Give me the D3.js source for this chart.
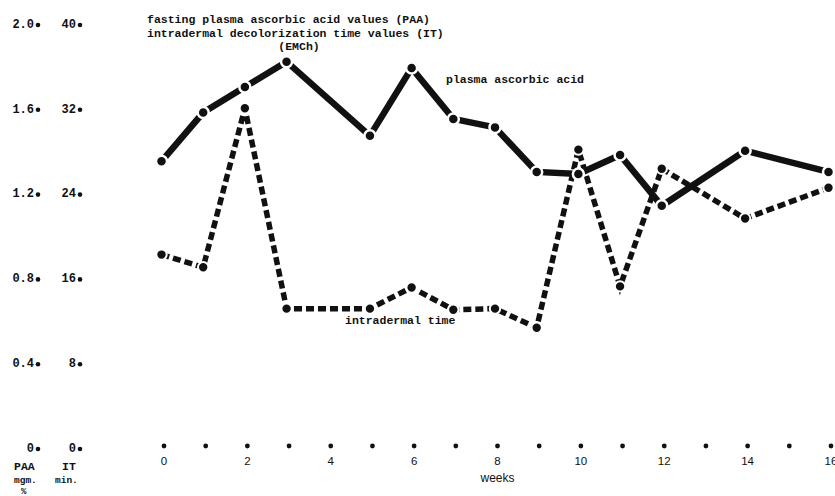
<!DOCTYPE html>
<html>
<head>
<meta charset="utf-8">
<script src="https://cdn.jsdelivr.net/npm/d3@7"></script>
<style>
  html, body { margin: 0; padding: 0; background: #fff; }
  svg { display: block; }
  .mono { font-family: "Liberation Mono", "DejaVu Sans Mono", monospace; font-weight: bold; fill: #111; }
  .sans { font-family: "Liberation Sans", Arial, sans-serif; fill: #111; }
</style>
</head>
<body>
<svg id="chart" width="835" height="496"></svg>
<script>
// Weekly measurements
const paaWeeks = [0, 1, 2, 3, 5, 6, 7, 8, 9, 10, 11, 12, 14, 16];
const paaValues = [1.35, 1.58, 1.70, 1.82, 1.47, 1.79, 1.55, 1.51, 1.30, 1.29, 1.38, 1.14, 1.40, 1.30]; // mgm. %
const itWeeks = [0, 1, 2, 3, 5, 6, 7, 8, 9, 10, 11, 12, 14, 16];
const itValues = [18.2, 17.0, 32.0, 13.1, 13.1, 15.1, 13.0, 13.1, 11.3, 28.1, 15.2, 26.3, 21.6, 24.5]; // min.

// Axis ticks and labels
const weekTicks = [0, 1, 2, 3, 4, 5, 6, 7, 8, 9, 10, 11, 12, 13, 14, 15, 16];
const weekLabels = ["0", "2", "4", "6", "8", "10", "12", "14", "16"];
const paaTicks = [0, 0.4, 0.8, 1.2, 1.6, 2.0];
const paaTickLabels = ["0", "0.4", "0.8", "1.2", "1.6", "2.0"];
const itTicks = [0, 8, 16, 24, 32, 40];
const itTickLabels = ["0", "8", "16", "24", "32", "40"];

const svg = d3.select("#chart");

const x = d3.scaleLinear().domain([0, 16]).range([164, 831]);
const yPAA = d3.scaleLinear().domain([0, 2.0]).range([447.5, 23.5]);
const yIT = d3.scaleLinear().domain([0, 40]).range([447.5, 23.5]);

// Title block
const title = svg.append("g").attr("class", "mono").style("font-size", "11.5px");
title.append("text").attr("x", 147).attr("y", 23).text("fasting plasma ascorbic acid values (PAA)");
title.append("text").attr("x", 147).attr("y", 36.5).text("intradermal decolorization time values (IT)");
title.append("text").attr("x", 299).attr("y", 49.5).attr("text-anchor", "middle").text("(EMCh)");

// Left scales: PAA (mgm. %) and IT (min.)
const leftAxes = svg.append("g");
const paaAxis = leftAxes.selectAll("g.paa").data(paaTicks).join("g").attr("class", "paa")
  .attr("transform", d => `translate(0,${yPAA(d)})`);
paaAxis.append("text").attr("class", "mono").style("font-size", "12px")
  .attr("x", 34).attr("dy", "0.35em").attr("text-anchor", "end")
  .text((d, i) => paaTickLabels[i]);
paaAxis.append("circle").attr("cx", 38).attr("cy", 1.5).attr("r", 2.3).attr("fill", "#111");

const itAxis = leftAxes.selectAll("g.it").data(itTicks).join("g").attr("class", "it")
  .attr("transform", d => `translate(0,${yIT(d)})`);
itAxis.append("text").attr("class", "mono").style("font-size", "12px")
  .attr("x", 76).attr("dy", "0.35em").attr("text-anchor", "end")
  .text((d, i) => itTickLabels[i]);
itAxis.append("circle").attr("cx", 80).attr("cy", 1.5).attr("r", 2.3).attr("fill", "#111");

// Unit captions under the left scales
const units = svg.append("g").attr("class", "mono");
units.append("text").attr("x", 14).attr("y", 470).style("font-size", "11.5px").text("PAA");
units.append("text").attr("x", 62).attr("y", 470).style("font-size", "11.5px").text("IT");
units.append("text").attr("x", 14).attr("y", 483).style("font-size", "9.5px").text("mgm.");
units.append("text").attr("x", 55).attr("y", 483).style("font-size", "9.5px").text("min.");
units.append("text").attr("x", 21).attr("y", 494).style("font-size", "9px").text("%");

// Week axis: a dot per week, numbers on even weeks
const xAxis = svg.append("g");
xAxis.selectAll("circle").data(weekTicks).join("circle")
  .attr("cx", d => x(d)).attr("cy", 446).attr("r", 2.4).attr("fill", "#111");
xAxis.selectAll("text").data(weekLabels).join("text").attr("class", "sans")
  .style("font-size", "11.5px").attr("text-anchor", "middle")
  .attr("x", d => x(+d)).attr("y", 465).text(d => d);
svg.append("text").attr("class", "sans").style("font-size", "12px")
  .attr("x", x(8)).attr("y", 482).attr("text-anchor", "middle").text("weeks");

// Series
const plot = svg.append("g").attr("transform", "translate(-2.5,0)");

const itPts = itWeeks.map((w, i) => [x(w), yIT(itValues[i])]);
const paaPts = paaWeeks.map((w, i) => [x(w), yPAA(paaValues[i])]);
const line = d3.line();

plot.append("path").attr("d", line(itPts)).attr("fill", "none")
  .attr("stroke", "#111").attr("stroke-width", 5.5).attr("stroke-dasharray", "8,4");
plot.selectAll("circle.it").data(itPts).join("circle").attr("class", "it")
  .attr("cx", d => d[0]).attr("cy", d => d[1]).attr("r", 5.2)
  .attr("fill", "#111").attr("stroke", "#fff").attr("stroke-width", 2);

plot.append("path").attr("d", line(paaPts)).attr("fill", "none")
  .attr("stroke", "#111").attr("stroke-width", 6.5);
plot.selectAll("circle.paa").data(paaPts).join("circle").attr("class", "paa")
  .attr("cx", d => d[0]).attr("cy", d => d[1]).attr("r", 5.5)
  .attr("fill", "#111").attr("stroke", "#fff").attr("stroke-width", 2.5);

// Series labels
svg.append("text").attr("class", "mono").style("font-size", "11.5px")
  .attr("x", 446).attr("y", 83).text("plasma ascorbic acid");
svg.append("text").attr("class", "mono").style("font-size", "11.5px")
  .attr("x", 345).attr("y", 324).text("intradermal time");
</script>
</body>
</html>
